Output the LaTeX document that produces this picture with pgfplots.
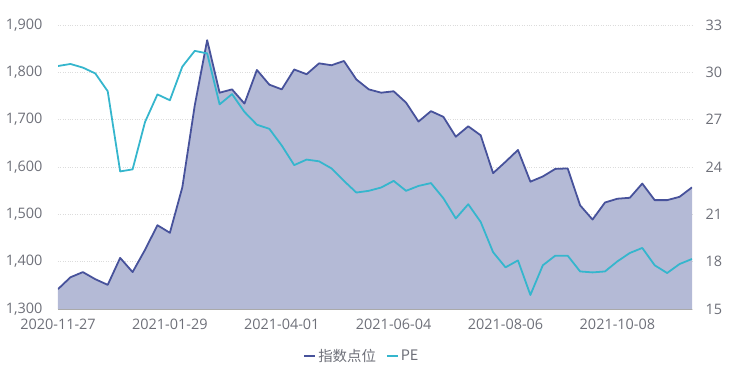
\documentclass[border=0pt]{standalone}
\usepackage{pgfplots}
\pgfplotsset{compat=1.18}
\usepackage{pgfplotstable}
\usepackage{fontspec}
\setmainfont{Open Sans}
\newfontfamily\cjk{Noto Sans CJK SC}
\definecolor{idxline}{HTML}{47529B}
\definecolor{idxfill}{HTML}{B4BAD6}
\definecolor{peline}{HTML}{35B6CD}
\definecolor{ticktext}{HTML}{6E7079}
\definecolor{gridc}{HTML}{DCDCDC}
\definecolor{basec}{HTML}{AAAAAA}

\pgfplotstableread{
i idx pe
0 1342 30.40
1 1367 30.53
2 1378 30.30
3 1363 29.93
4 1351 28.80
5 1408 23.72
6 1378 23.85
7 1425 26.85
8 1477 28.60
9 1461 28.23
10 1557 30.36
11 1730 31.36
12 1868 31.20
13 1757 27.97
14 1764 28.62
15 1734 27.49
16 1805 26.68
17 1774 26.42
18 1764 25.36
19 1806 24.12
20 1796 24.47
21 1819 24.36
22 1815 23.91
23 1824 23.12
24 1785 22.38
25 1764 22.49
26 1757 22.70
27 1760 23.12
28 1736 22.49
29 1696 22.80
30 1718 22.98
31 1706 22.02
32 1664 20.74
33 1686 21.64
34 1667 20.52
35 1587 18.60
36 1611 17.64
37 1636 18.08
38 1569 15.89
39 1580 17.77
40 1596 18.38
41 1597 18.38
42 1519 17.38
43 1489 17.32
44 1525 17.38
45 1533 18.02
46 1535 18.55
47 1565 18.87
48 1530 17.77
49 1530 17.28
50 1537 17.85
51 1557 18.17
}\datatable

\begin{document}
\begin{tikzpicture}[x=1bp,y=1bp]
\useasboundingbox (-58bp,-61bp) rectangle (680bp,309bp);
\pgfplotsset{
  every axis/.append style={
    scale only axis, width=634bp, height=284bp,
    at={(0bp,0bp)}, anchor=south west,
    xmin=0, xmax=51, enlarge x limits=false,
    font=\fontsize{14.5}{16}\selectfont,
    /pgf/number format/assume math mode=true,
    tick label style={text=ticktext},
    major tick length=0pt,
  }
}
\begin{axis}[
  ymin=1300, ymax=1900, ytick={1300,1400,...,1900},
  axis x line*=bottom, axis y line*=left,
  x axis line style={draw=basec, line width=1.2pt},
  y axis line style={draw=none},
  ymajorgrids, grid style={gridc, dotted, line width=1pt},
  xtick={0,9,18,27,36,45},
  xticklabels={2020-11-27,2021-01-29,2021-04-01,2021-06-04,2021-08-06,2021-10-08},
  xticklabel style={yshift=-7bp},
  yticklabel style={xshift=-12bp},
  /pgf/number format/1000 sep={,},
]
\addplot[fill=idxfill, draw=none] table[x=i,y=idx]{\datatable} \closedcycle;
\addplot[idxline, line width=1.8pt, line join=round] table[x=i,y=idx]{\datatable};
\end{axis}
\begin{axis}[
  ymin=15, ymax=33, ytick={15,18,...,33},
  axis y line*=right, axis x line=none,
  y axis line style={draw=none},
  yticklabel style={xshift=10bp},
  legend columns=2,
  legend style={at={(304bp,-47bp)}, anchor=center, draw=none, fill=none,
    font=\fontsize{14.5}{16}\selectfont\cjk, text=ticktext,
    /tikz/every even column/.append style={column sep=8bp}},
  legend image code/.code={\draw[#1, line width=1.8pt] (0bp,0bp) -- (11bp,0bp);},
]
\addlegendimage{idxline}
\addlegendentry{指数点位}
\addplot[peline, line width=1.8pt, line join=round] table[x=i,y=pe]{\datatable};
\addlegendentry{PE}
\end{axis}
\end{tikzpicture}
\end{document}
